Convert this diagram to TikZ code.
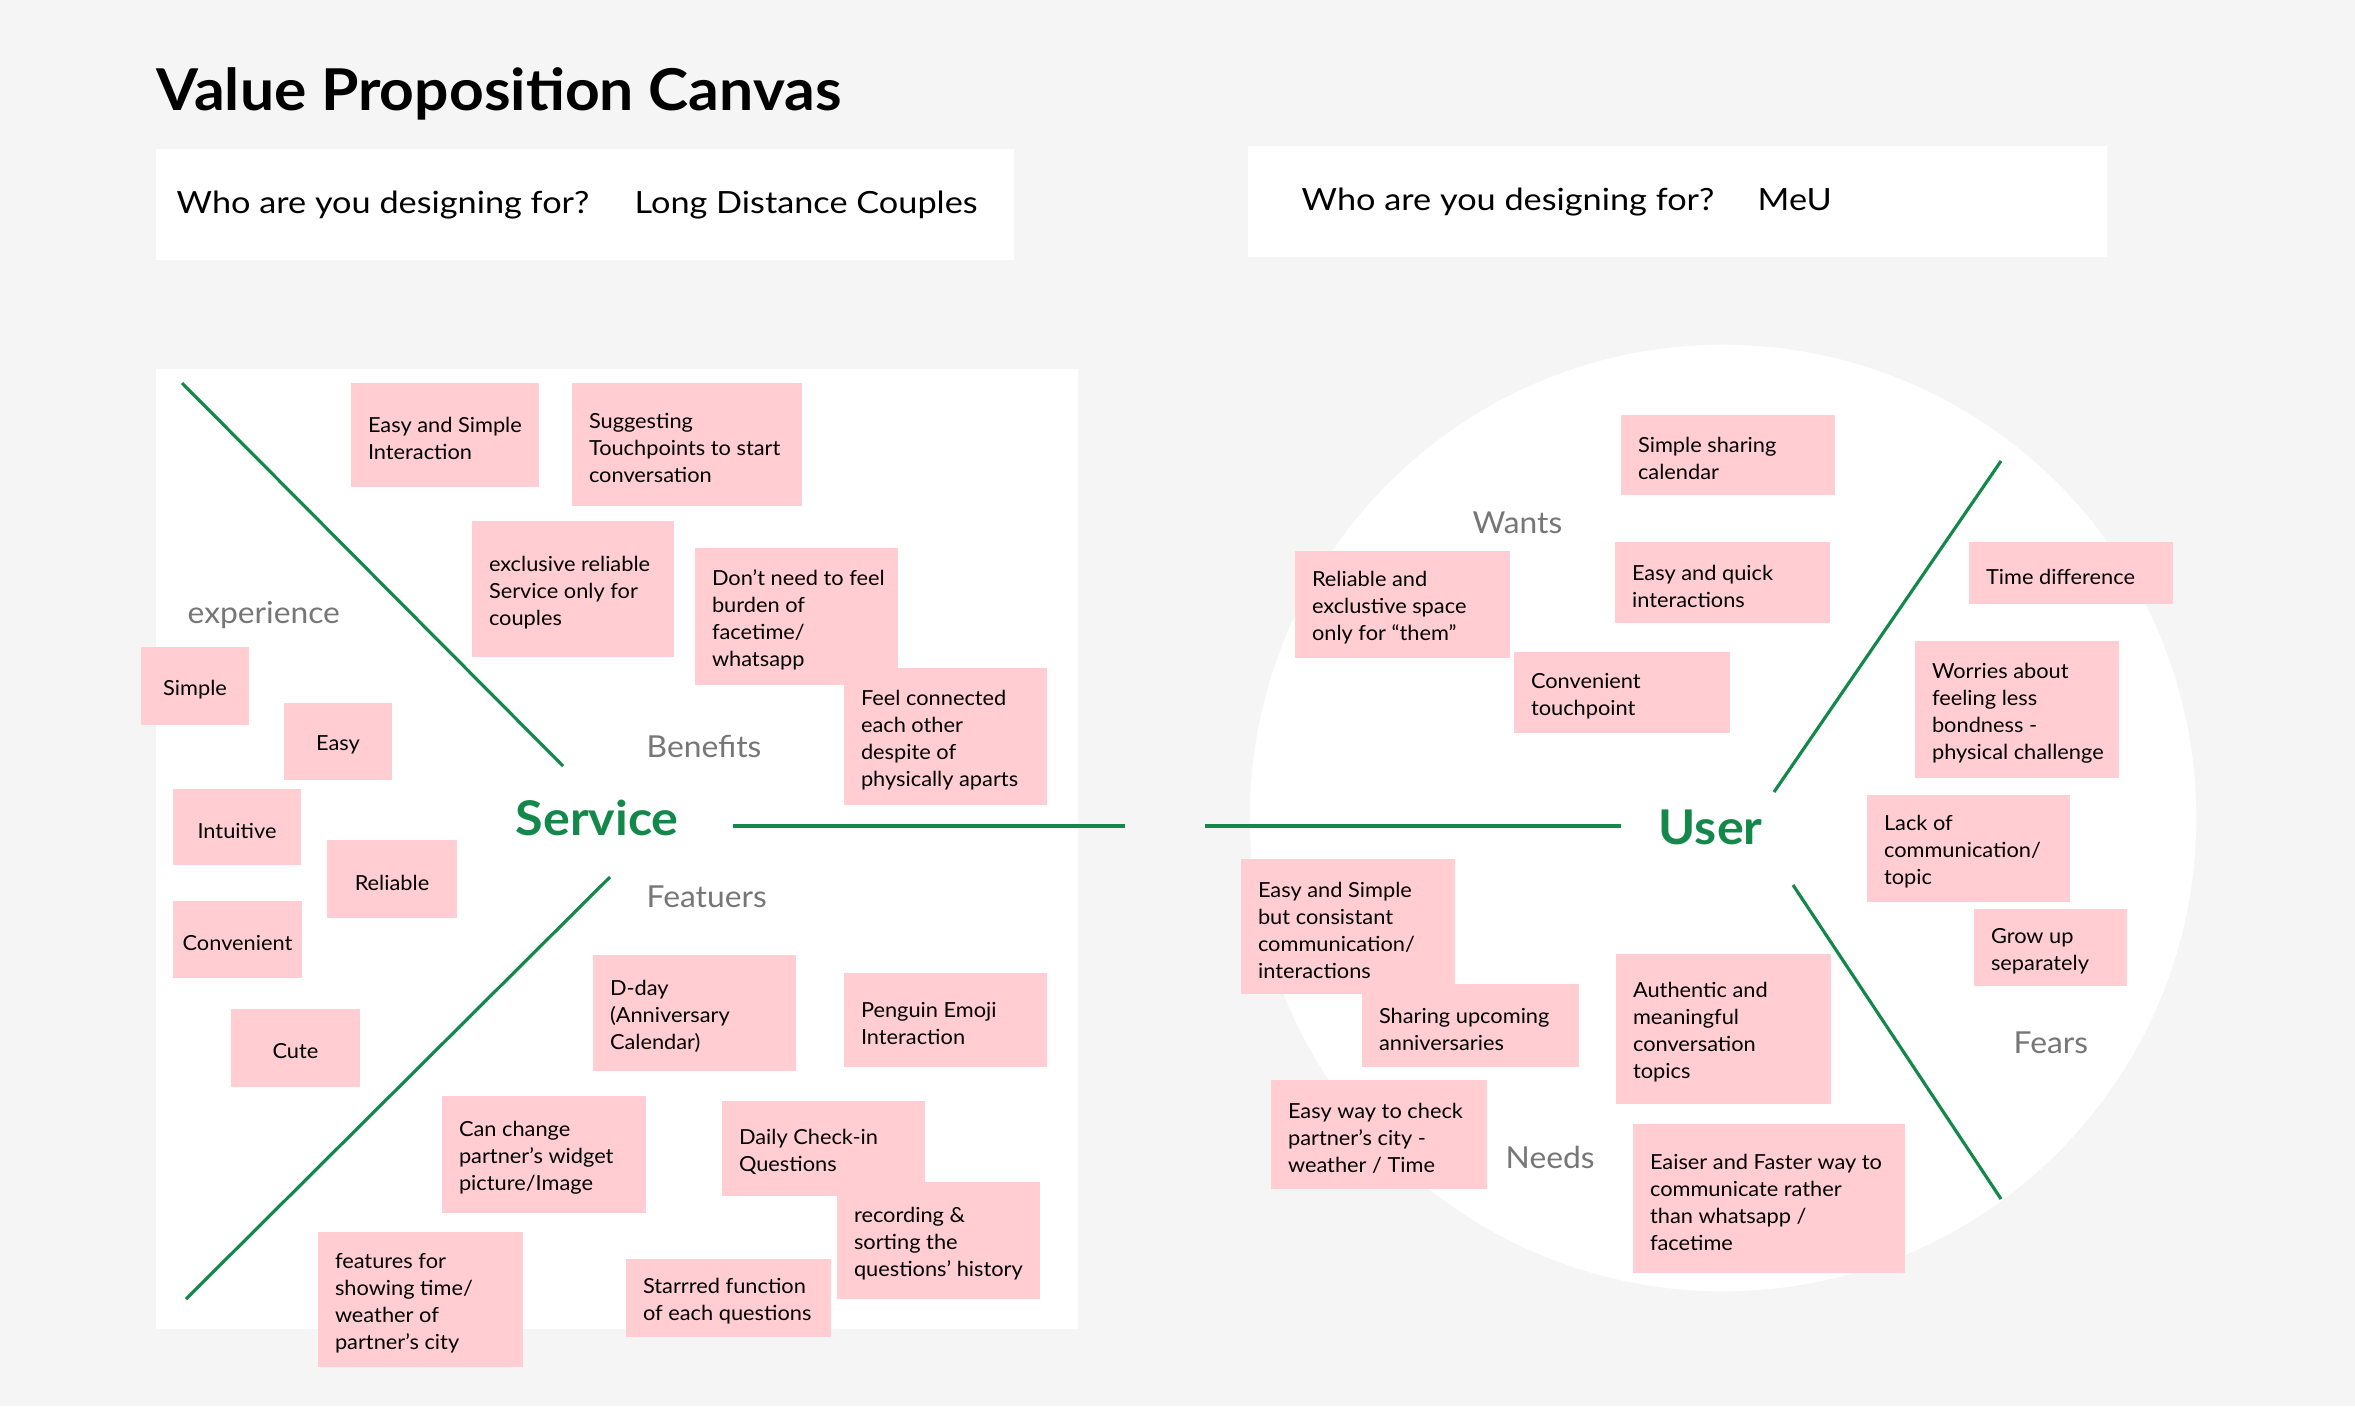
\documentclass[tikz,border=0pt]{standalone}
\usepackage{fontspec}
\setmainfont{Lato}[FakeStretch=1.05]
\newfontfamily\headfont{Lato}[FakeStretch=1.12]
\newfontfamily\titlefont{Lato}[FakeStretch=1.05]
\usepackage{tikz}
\usetikzlibrary{positioning, fit}
\definecolor{canvasbg}{HTML}{F5F5F5}
\definecolor{stickypink}{HTML}{FFCDD2}
\definecolor{vpgreen}{HTML}{13884A}
\definecolor{labelgray}{HTML}{767676}
\newcommand{\notefont}{\fontsize{5.9}{7.68}\selectfont}
\tikzset{
  panel/.style={fill=white, draw=none, inner sep=0pt},
  stickybox/.style={fill=stickypink, draw=none, inner sep=0pt},
  stickytext/.style={inner xsep=0.17cm, inner ysep=0pt, yshift=-0.035cm, align=left, font=\notefont},
  % green axes of the canvas
  axis/.style={draw=vpgreen, line width=0.9pt},
  area/.style={inner sep=0pt, anchor=base west, text=labelgray, font={\fontsize{8.6}{10}\selectfont}},
  hub/.style={inner sep=0pt, anchor=base west, text=vpgreen, font={\fontsize{13.6}{16}\selectfont\bfseries}},
  heading/.style={inner sep=0pt, anchor=base west, font={\headfont\fontsize{8.7}{10}\selectfont}},
  title/.style={inner sep=0pt, anchor=base west, font={\titlefont\fontsize{16.4}{19}\selectfont\bfseries}}
}

\begin{document}
\begin{tikzpicture}[x=0.01cm, y=-0.01cm]

% -------------------------------------------------
% background, panels
\fill[canvasbg] (0,0) rectangle (2355,1406);
\useasboundingbox (0,0) rectangle (2355,1406);

\node[title] (title) at (156,110) {Value Proposition Canvas};

\node[panel, fit={(156,149)(1014,260)}] (leftheader) {};
\node[panel, fit={(1248,146)(2107,257)}] (rightheader) {};
\node[heading] (leftq) at (176,213) {Who are you designing for?};
\node[heading] (lefta) at (634,213) {Long Distance Couples};
\node[heading] (rightq) at (1301,210) {Who are you designing for?};
\node[heading] (righta) at (1757,210) {MeU};

\node[panel, fit={(156,369)(1078,1329)}] (servicepanel) {};
\node[panel, circle, minimum size=9.46cm] (usercircle) at (1723,818) {};

% -------------------------------------------------
% axes
\draw[axis] (182,383) -- (563,766);
\draw[axis] (610,877) -- (186,1299);
\draw[axis] (733,826) -- (1125,826);
\draw[axis] (1205,826) -- (1621,826);
\draw[axis] (1774,792) -- (2001,461);
\draw[axis] (1793,885) -- (2001,1199);

% -------------------------------------------------
% labels
\node[hub] (service) at (515,835) {Service};
\node[hub] (user) at (1658,844) {User};
\node[area] (experience) at (187,623) {experience};
\node[area] (benefits) at (646,757) {Benefits};
\node[area] (featuers) at (646,907) {Featuers};
\node[area] (wants) at (1472,533) {Wants};
\node[area] (needs) at (1505,1168) {Needs};
\node[area] (fears) at (2013,1053) {Fears};

% -------------------------------------------------
% service side notes
\node[stickybox, fit={(351,383)(539,487)}] (easysimple) {};
\node[stickytext, right=0pt of easysimple.west] {Easy and Simple\\Interaction};
\node[stickybox, fit={(572,383)(802,506)}] (suggesting) {};
\node[stickytext, right=0pt of suggesting.west] {Suggesting\\Touchpoints to start\\conversation};
\node[stickybox, fit={(472,521)(674,657)}] (exclusive) {};
\node[stickytext, right=0pt of exclusive.west] {exclusive reliable\\Service only for\\couples};
\node[stickybox, fit={(695,548)(898,685)}] (noburden) {};
\node[stickytext, right=0pt of noburden.west] {Don’t need to feel\\burden of\\facetime/\\whatsapp};
\node[stickybox, fit={(844,668)(1047,805)}] (connected) {};
\node[stickytext, right=0pt of connected.west] {Feel connected\\each other\\despite of\\physically aparts};

\node[stickybox, fit={(141,647)(249,725)}] (simple) {};
\node[stickytext] at (simple.center) {Simple};
\node[stickybox, fit={(284,703)(392,780)}] (easy) {};
\node[stickytext] at (easy.center) {Easy};
\node[stickybox, fit={(173,789)(301,865)}] (intuitive) {};
\node[stickytext] at (intuitive.center) {Intuitive};
\node[stickybox, fit={(327,840)(457,918)}] (reliable) {};
\node[stickytext] at (reliable.center) {Reliable};
\node[stickybox, fit={(173,901)(302,978)}] (convenient) {};
\node[stickytext] at (convenient.center) {Convenient};
\node[stickybox, fit={(231,1009)(360,1087)}] (cute) {};
\node[stickytext] at (cute.center) {Cute};

\node[stickybox, fit={(593,955)(796,1071)}] (dday) {};
\node[stickytext, right=0pt of dday.west] {D-day\\(Anniversary\\Calendar)};
\node[stickybox, fit={(844,973)(1047,1067)}] (penguin) {};
\node[stickytext, right=0pt of penguin.west] {Penguin Emoji\\Interaction};
\node[stickybox, fit={(442,1096)(646,1213)}] (widget) {};
\node[stickytext, right=0pt of widget.west] {Can change\\partner’s widget\\picture/Image};
\node[stickybox, fit={(722,1101)(925,1196)}] (checkin) {};
\node[stickytext, right=0pt of checkin.west] {Daily Check-in\\Questions};
\node[stickybox, fit={(837,1182)(1040,1299)}] (recording) {};
\node[stickytext, right=0pt of recording.west] {recording \&\\sorting the\\questions’ history};
\node[stickybox, fit={(318,1232)(523,1367)}] (citytime) {};
\node[stickytext, right=0pt of citytime.west] {features for\\showing time/\\weather of\\partner’s city};
\node[stickybox, fit={(626,1259)(831,1337)}] (starred) {};
\node[stickytext, right=0pt of starred.west] {Starrred function\\of each questions};

% -------------------------------------------------
% user side notes
\node[stickybox, fit={(1621,415)(1835,495)}] (sharecal) {};
\node[stickytext, right=0pt of sharecal.west] {Simple sharing\\calendar};
\node[stickybox, fit={(1295,551)(1510,658)}] (ownspace) {};
\node[stickytext, right=0pt of ownspace.west] {Reliable and\\exclustive space\\only for “them”};
\node[stickybox, fit={(1615,542)(1830,623)}] (quick) {};
\node[stickytext, right=0pt of quick.west] {Easy and quick\\interactions};
\node[stickybox, fit={(1514,652)(1730,733)}] (touchpoint) {};
\node[stickytext, right=0pt of touchpoint.west] {Convenient\\touchpoint};
\node[stickybox, fit={(1969,542)(2173,604)}] (timediff) {};
\node[stickytext, right=0pt of timediff.west] {Time difference};
\node[stickybox, fit={(1915,641)(2119,778)}] (bondness) {};
\node[stickytext, right=0pt of bondness.west] {Worries about\\feeling less\\bondness -\\physical challenge};
\node[stickybox, fit={(1867,795)(2070,902)}] (lackcomm) {};
\node[stickytext, right=0pt of lackcomm.west] {Lack of\\communication/\\topic};
\node[stickybox, fit={(1974,909)(2127,986)}] (growup) {};
\node[stickytext, right=0pt of growup.west] {Grow up\\separately};
\node[stickybox, fit={(1241,859)(1455,994)}] (consistent) {};
\node[stickytext, right=0pt of consistent.west] {Easy and Simple\\but consistant\\communication/\\interactions};
\node[stickybox, fit={(1362,984)(1579,1067)}] (anniv) {};
\node[stickytext, right=0pt of anniv.west] {Sharing upcoming\\anniversaries};
\node[stickybox, fit={(1616,954)(1831,1104)}] (authentic) {};
\node[stickytext, right=0pt of authentic.west] {Authentic and\\meaningful\\conversation\\topics};
\node[stickybox, fit={(1271,1080)(1487,1189)}] (checkcity) {};
\node[stickytext, right=0pt of checkcity.west] {Easy way to check\\partner’s city -\\weather / Time};
\node[stickybox, fit={(1633,1124)(1905,1273)}] (faster) {};
\node[stickytext, right=0pt of faster.west] {Eaiser and Faster way to\\communicate rather\\than whatsapp /\\facetime};

\end{tikzpicture}
\end{document}
